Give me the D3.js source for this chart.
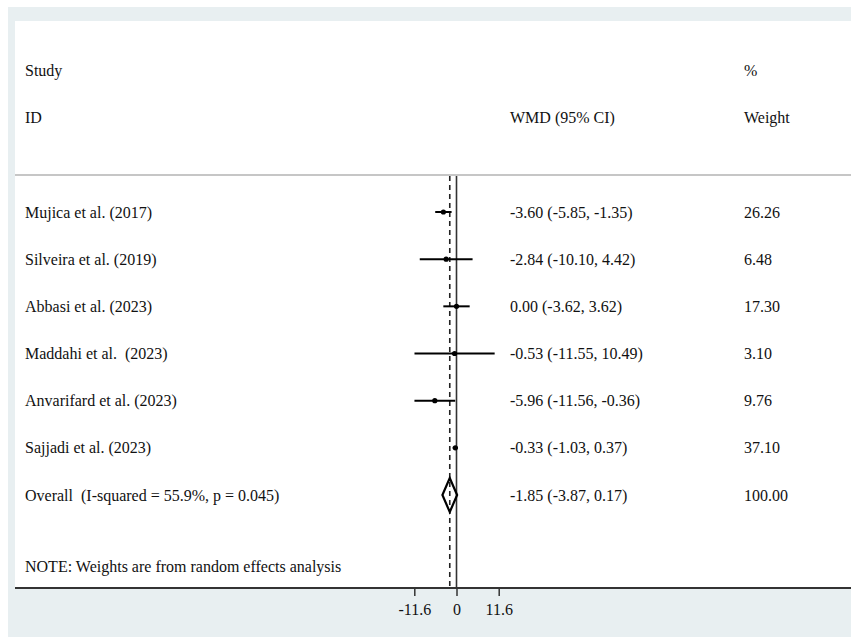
<!DOCTYPE html>
<html><head><meta charset="utf-8">
<script src="https://cdn.jsdelivr.net/npm/d3@7"></script>
<style>body{margin:0;background:#fff}svg{display:block}text{font-family:"Liberation Serif","Times New Roman",serif;fill:#111;white-space:pre}</style>
</head><body><svg id="c" width="851" height="637"></svg>
<script>
const studies = ["Mujica et al. (2017)","Silveira et al. (2019)","Abbasi et al. (2023)","Maddahi et al.  (2023)","Anvarifard et al. (2023)","Sajjadi et al. (2023)"];
const est = [-3.60,-2.84,0.00,-0.53,-5.96,-0.33];
const lo = [-5.85,-10.10,-3.62,-11.55,-11.56,-1.03];
const hi = [-1.35,4.42,3.62,10.49,-0.36,0.37];
const weights = ["26.26","6.48","17.30","3.10","9.76","37.10"];
const overallLabel = "Overall  (I-squared = 55.9%, p = 0.045)";
const overall = {est:-1.85, lo:-3.87, hi:0.17, w:"100.00"};
const ticks = [-11.6, 0, 11.6];
const note = "NOTE: Weights are from random effects analysis";

const FS = 16;
const svg = d3.select("#c");
svg.append("rect").attr("x",8).attr("y",7).attr("width",843).attr("height",630).attr("fill","#e8eff1");
svg.append("rect").attr("x",15).attr("y",21).attr("width",836).attr("height",567).attr("fill","#fff");

const x = d3.scaleLinear().domain([-11.6,11.6]).range([414.3,498.7]);
const rows = d3.range(studies.length+1);
const y = d3.scalePoint().domain(rows).range([212,495]);

const f2 = v => v.toFixed(2).replace("\u2212","-");
const ci = (e,l,h)=>`${f2(e)} (${f2(l)}, ${f2(h)})`;

const hdr = [["Study",25,70],["ID",25,117],["WMD (95% CI)",510,117],["%",744,70],["Weight",744,117]];
svg.selectAll("text.h").data(hdr).join("text").attr("class","h")
  .attr("x",d=>d[1]).attr("y",d=>d[2]).attr("dy","0.35em").attr("font-size",FS).text(d=>d[0]);

svg.append("line").attr("x1",15).attr("x2",851).attr("y1",175).attr("y2",175).attr("stroke","#b3b3b3").attr("stroke-width",1.5);

svg.append("line").attr("x1",x(0)).attr("x2",x(0)).attr("y1",176).attr("y2",588).attr("stroke","#333").attr("stroke-width",1.6);
svg.append("line").attr("x1",x(overall.est)).attr("x2",x(overall.est)).attr("y1",176).attr("y2",588)
  .attr("stroke","#222").attr("stroke-width",1.6).attr("stroke-dasharray","5,4");

const g = svg.append("g");
studies.forEach((s,i)=>{
  g.append("line").attr("x1",x(lo[i])).attr("x2",x(hi[i])).attr("y1",y(i)).attr("y2",y(i)).attr("stroke","#000").attr("stroke-width",2);
  g.append("circle").attr("cx",x(est[i])).attr("cy",y(i)).attr("r",2.6).attr("fill","#000");
  g.append("text").attr("x",25).attr("y",y(i)).attr("dy","0.35em").attr("font-size",FS).text(s);
  g.append("text").attr("x",510).attr("y",y(i)).attr("dy","0.35em").attr("font-size",FS).text(ci(est[i],lo[i],hi[i]));
  g.append("text").attr("x",744).attr("y",y(i)).attr("dy","0.35em").attr("font-size",FS).text(weights[i]);
});
const oy = y(studies.length);
g.append("path").attr("d",`M${x(overall.lo)},${oy} L${x(overall.est)},${oy-17} L${x(overall.hi)},${oy} L${x(overall.est)},${oy+17} Z`)
  .attr("fill","none").attr("stroke","#000").attr("stroke-width",2.2);
g.append("text").attr("x",25).attr("y",oy).attr("dy","0.35em").attr("font-size",FS).text(overallLabel);
g.append("text").attr("x",510).attr("y",oy).attr("dy","0.35em").attr("font-size",FS).text(ci(overall.est,overall.lo,overall.hi));
g.append("text").attr("x",744).attr("y",oy).attr("dy","0.35em").attr("font-size",FS).text(overall.w);

svg.append("text").attr("x",25).attr("y",566).attr("dy","0.35em").attr("font-size",FS).text(note);

svg.append("line").attr("x1",15).attr("x2",851).attr("y1",588).attr("y2",588).attr("stroke","#333").attr("stroke-width",2);
const ax = svg.append("g").attr("transform","translate(0,588)")
  .call(d3.axisBottom(x).tickValues(ticks).tickFormat(d=>d===0?"0":d.toFixed(1)).tickSize(8).tickPadding(8));
ax.select(".domain").remove();
ax.selectAll("line").attr("stroke","#333").attr("stroke-width",1.5);
ax.selectAll("text").attr("font-size",FS).attr("font-family","Liberation Serif, serif").attr("fill","#111");
</script></body></html>
